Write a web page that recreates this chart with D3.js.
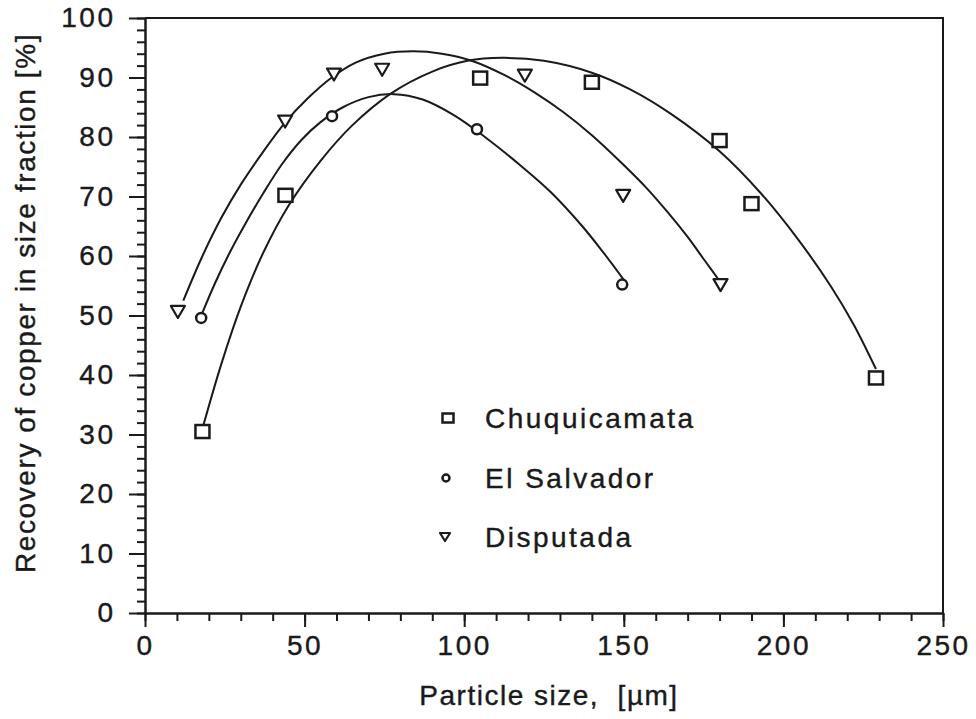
<!DOCTYPE html>
<html>
<head>
<meta charset="utf-8">
<script src="https://cdn.jsdelivr.net/npm/d3@7"></script>
<style>
  body { margin: 0; background: #fff; }
  svg text { font-family: "Liberation Sans", Arial, sans-serif; fill: #1a1a1a; stroke: #1a1a1a; stroke-width: 0.4px; }
</style>
</head>
<body>
<svg id="chart" width="976" height="719"></svg>
<script>
// measured points
var chuquiX = [18, 44, 105, 140, 180, 190, 229];
var chuquiY = [30.5, 70.2, 89.9, 89.2, 79.4, 68.8, 39.5];
var salvX = [17.6, 58.6, 104, 149.5];
var salvY = [49.6, 83.5, 81.3, 55.2];
var disputX = [10.3, 43.9, 59.2, 74.3, 119, 149.8, 180.3];
var disputY = [50.6, 82.6, 90.5, 91.3, 90.3, 70.1, 55.1];

// fitted curves
var chuquiFitX = [18, 24, 30, 37, 45, 55, 65, 77, 90, 101, 112, 125, 140, 152, 165, 180, 193, 205, 215, 222, 229];
var chuquiFitY = [31, 42, 51.5, 60.5, 68.5, 76, 82, 87.3, 91, 92.8, 93.3, 92.8, 90.8, 88, 83.8, 77.6, 70.5, 62.5, 54.8, 48.5, 41];
var salvFitX = [18, 22, 26, 31, 37, 43, 49, 55, 62, 70, 78, 87, 97, 107, 117, 127, 137, 144, 150];
var salvFitY = [50.5, 55.5, 60, 65, 70.5, 75.5, 79.5, 82.5, 85, 86.7, 87.2, 86.3, 83.6, 79.8, 75.5, 70.8, 65, 60.3, 56];
var disputFitX = [12, 18, 24, 30, 37, 44, 51, 58, 66, 75, 84, 93, 103, 113, 122, 131, 140, 149, 157, 164, 170, 175, 180];
var disputFitY = [52.5, 60, 66.5, 72, 77.5, 82.5, 86.5, 89.8, 92.5, 94, 94.4, 94, 92.7, 90.3, 87.5, 84.2, 80.3, 75.8, 71.5, 67.2, 63.2, 59.5, 55.8];

var legendNames = ["Chuquicamata", "El Salvador", "Disputada"];
var xTicks = [0, 50, 100, 150, 200, 250];
var yTicks = [0, 10, 20, 30, 40, 50, 60, 70, 80, 90, 100];

var svg = d3.select("#chart");
var ink = "#1a1a1a";

var x = d3.scaleLinear().domain([0, 250]).range([145, 943]);
var y = d3.scaleLinear().domain([0, 100]).range([613, 18]);

// frame top + right
svg.append("path")
  .attr("d", `M${x(0)},${y(100)}H${x(250)}V${y(0)}`)
  .attr("fill", "none")
  .attr("stroke", ink)
  .attr("stroke-width", 2);

// minor ticks
svg.append("g")
  .attr("transform", `translate(${x(0)},0)`)
  .call(d3.axisLeft(y).tickValues(d3.range(0, 101, 2)).tickSize(8).tickFormat(""))
  .call(g => g.select(".domain").remove())
  .selectAll("line").attr("stroke", ink).attr("stroke-width", 2);

svg.append("g")
  .attr("transform", `translate(0,${y(0)})`)
  .call(d3.axisBottom(x).tickValues(d3.range(0, 251, 10)).tickSize(8).tickFormat(""))
  .call(g => g.select(".domain").remove())
  .selectAll("line").attr("stroke", ink).attr("stroke-width", 2);

// major ticks + labels
var yAxis = svg.append("g")
  .attr("transform", `translate(${x(0)},0)`)
  .call(d3.axisLeft(y).tickValues(yTicks).tickSize(16).tickSizeOuter(0).tickPadding(16));
yAxis.select(".domain").attr("stroke", ink).attr("stroke-width", 2.5);
yAxis.selectAll("line").attr("stroke", ink).attr("stroke-width", 2);
yAxis.selectAll("text")
  .style("font-size", "28px")
  .style("letter-spacing", "2.5px")
  .attr("dx", "2.5px")
  .attr("fill", ink);

var xAxis = svg.append("g")
  .attr("transform", `translate(0,${y(0)})`)
  .call(d3.axisBottom(x).tickValues(xTicks).tickSize(14).tickSizeOuter(0).tickPadding(8));
xAxis.select(".domain").attr("stroke", ink).attr("stroke-width", 2.5);
xAxis.selectAll("line").attr("stroke", ink).attr("stroke-width", 2);
xAxis.selectAll("text")
  .style("font-size", "28px")
  .style("letter-spacing", "2.5px")
  .attr("fill", ink);

// axis titles
svg.append("text")
  .attr("x", 549)
  .attr("y", 705)
  .attr("text-anchor", "middle")
  .style("font-size", "28px")
  .style("letter-spacing", "1.5px")
  .style("white-space", "pre")
  .text("Particle size,  [\u00b5m]");

svg.append("text")
  .attr("transform", "translate(35,303) rotate(-90)")
  .attr("text-anchor", "middle")
  .style("font-size", "28px")
  .style("letter-spacing", "1.6px")
  .text("Recovery of copper in size fraction [%]");

// curves
var line = d3.line()
  .x(d => x(d[0]))
  .y(d => y(d[1]))
  .curve(d3.curveCatmullRom.alpha(0.5));

var fits = [
  d3.zip(chuquiFitX, chuquiFitY),
  d3.zip(salvFitX, salvFitY),
  d3.zip(disputFitX, disputFitY)
];
svg.append("g").selectAll("path")
  .data(fits)
  .enter()
  .append("path")
  .attr("d", line)
  .attr("fill", "none")
  .attr("stroke", ink)
  .attr("stroke-width", 2);

// markers
function drawSquare(g, cx, cy, w, h) {
  g.append("rect")
    .attr("x", cx - w / 2).attr("y", cy - h / 2)
    .attr("width", w).attr("height", h)
    .attr("fill", "#fff").attr("stroke", ink).attr("stroke-width", 2.5);
}
function drawCircle(g, cx, cy, r) {
  g.append("circle")
    .attr("cx", cx).attr("cy", cy).attr("r", r)
    .attr("fill", "#fff").attr("stroke", ink).attr("stroke-width", 2.5);
}
function drawTri(g, cx, cy, w, h) {
  g.append("path")
    .attr("d", `M${cx - w / 2},${cy - h / 2}L${cx + w / 2},${cy - h / 2}L${cx},${cy + h / 2}Z`)
    .attr("fill", "#fff").attr("stroke", ink).attr("stroke-width", 2.2)
    .attr("stroke-linejoin", "round");
}

var marks = svg.append("g");
chuquiX.forEach((v, i) => drawSquare(marks, x(v), y(chuquiY[i]), 14, 13));
salvX.forEach((v, i) => drawCircle(marks, x(v), y(salvY[i]), 5));
disputX.forEach((v, i) => drawTri(marks, x(v), y(disputY[i]), 14, 12));

// legend
var legend = svg.append("g");
var legendY = [418, 478, 537];
drawSquare(legend, 448, legendY[0], 11, 9);
drawCircle(legend, 446, legendY[1], 3.5);
drawTri(legend, 445, legendY[2], 10, 8);
legend.selectAll("text")
  .data(legendNames)
  .enter()
  .append("text")
  .attr("x", 485)
  .attr("y", (d, i) => legendY[i] + 10)
  .style("font-size", "28px")
  .style("letter-spacing", "2.5px")
  .text(d => d);
</script>
</body>
</html>
